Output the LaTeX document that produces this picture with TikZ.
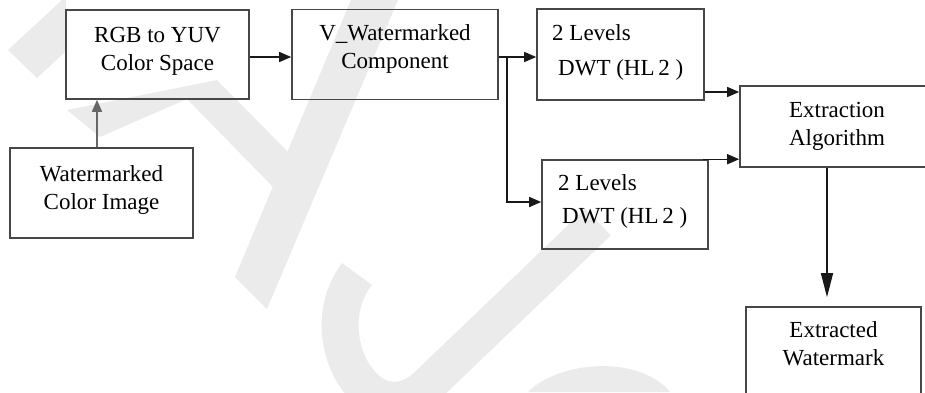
\documentclass[tikz,border=0pt]{standalone}
\usepackage{fontspec}
\setmainfont{Liberation Serif}
\usetikzlibrary{arrows.meta}
\begin{document}
\begin{tikzpicture}[x=1pt,y=-1pt,
  wm/.style={fill=black!8},
  wmline/.style={draw=black!8, line width=37pt, line cap=butt},
  box/.style={draw=black!72, line width=1.6pt, inner sep=0pt},
  lbl/.style={font=\fontsize{23}{28}\selectfont, align=center, inner sep=0pt, anchor=north},
  lline/.style={font=\fontsize{23}{28}\selectfont, inner sep=0pt, anchor=base west},
  arr/.style={draw=black!90, line width=1.4pt, -{Triangle[length=12pt,width=10pt]}},
  garr/.style={draw=black!60, line width=1.4pt, -{Triangle[length=12pt,width=10pt]}},
  longarr/.style={draw=black!90, line width=1.4pt, -{Triangle[length=24pt,width=12pt]}}
]
\useasboundingbox (0,0) rectangle (925,392);
\clip (0,0) rectangle (925,392);

% faint background mark
\fill[wm] (8,50) -- (37,78) -- (66,51) -- (66,0) -- (62,0) -- cycle;
\fill[wm] (67,110) -- (217,80) -- (289,153) -- (273,187) -- (187,99) -- (100,137) -- cycle;
\fill[wm] (235,277) -- (267,309) -- (398,0) -- (351,0) -- cycle;
\draw[wmline] (357,274) .. controls (310,335) and (370,440) .. (428,385) -- (598,222);
\fill[wm] (528,392) .. controls (560,360) and (640,355) .. (670,392) -- cycle;

% blocks
\node[box, minimum width=183pt, minimum height=89pt] (rgb) at (157.5,54.5) {};
\node[box, minimum width=183pt, minimum height=90pt] (wci) at (101.5,193) {};
\node[box, minimum width=206pt, minimum height=90pt] (vw) at (395,54.5) {};
\node[box, minimum width=167pt, minimum height=91pt] (dwta) at (620.5,54.5) {};
\node[box, minimum width=166pt, minimum height=89pt] (dwtb) at (625,204.5) {};
\node[box, minimum width=194pt, minimum height=81pt] (ext) at (837,126.5) {};
\node[box, minimum width=175pt, minimum height=113pt] (exw) at (833.5,363.5) {};

% block texts
\node[lbl] (trgb) at (157.5,27) {RGB to YUV\\Color Space};
\node[lbl] (twci) at (101.5,165) {Watermarked\\Color Image};
\node[lbl] (tvw) at (395,24.5) {V\_Watermarked\\Component};
\node[lline] (tda1) at (552,40) {2 Levels};
\node[lline] (tda2) at (558,75) {DWT (HL\,2 )};
\node[lline] (tdb1) at (558,190) {2 Levels};
\node[lline] (tdb2) at (562,223) {DWT (HL\,2 )};
\node[lbl] (text) at (837,102) {Extraction\\Algorithm};
\node[lbl] (texw) at (833.5,321.5) {Extracted\\Watermark};

% connectors
\coordinate (split) at (507,57);
\draw[garr] ([xshift=-4.5pt]wci.north) -- ([xshift=-60.5pt]rgb.south);
\draw[arr] ([yshift=-2.5pt]rgb.east) -- ([yshift=-2.5pt]vw.west);
\draw[arr] ([yshift=-2.5pt]vw.east) -- ([yshift=-2.5pt]dwta.west);
\draw[arr] (split) |- ([yshift=2.5pt]dwtb.west);
\draw[arr] ([yshift=-37.5pt]dwta.east) -- ([yshift=34.5pt]ext.west);
\draw[arr] ([xshift=-6pt]dwtb.north east) -- (ext.west |- dwtb.north east);
\draw[longarr, shorten >=9pt] ([xshift=-10pt]ext.south) -- ([xshift=-6.5pt]exw.north);
\end{tikzpicture}
\end{document}
